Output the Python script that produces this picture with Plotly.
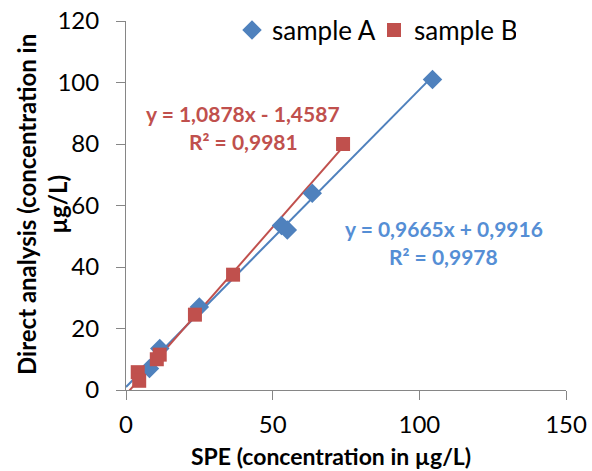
import plotly.graph_objects as go

# Data
a_x = [8, 11.5, 25, 53, 55, 63.5, 104.5]
a_y = [7, 13.5, 27, 53.5, 52, 64, 101]
b_x = [4, 4.5, 10.5, 11.5, 23.5, 36.5, 74]
b_y = [5.8, 3.0, 10, 11.5, 24.5, 37.5, 80]

a_fit = (0.9665, 0.9916)
b_fit = (1.0878, -1.4587)
a_eq = ["y = 0,9665x + 0,9916", "R² = 0,9978"]
b_eq = ["y = 1,0878x - 1,4587", "R² = 0,9981"]

x_ticks = [0, 50, 100, 150]
y_ticks = [0, 20, 40, 60, 80, 100, 120]
x_title = "SPE (concentration in µg/L)"
y_title = "Direct analysis (concentration in<br>µg/L)"

BLUE = "#4F81BD"
RED = "#C0504D"
BLUE_TXT = "#558ED5"
FONT = "Lato"

L, R, T, B = 126, 26, 21, 81
W, H = 592, 471
PW, PH = W - L - R, H - T - B


def px_x(p):
    return (p - L) / PW


def px_y(p):
    return (H - B - p) / PH


fig = go.Figure()


def trend(xs, fit):
    x0, x1 = 0, max(xs)
    return [x0, x1], [fit[0] * x0 + fit[1], fit[0] * x1 + fit[1]]


tx, ty = trend(a_x, a_fit)
fig.add_trace(go.Scatter(x=tx, y=ty, mode="lines", line=dict(color=BLUE, width=2),
                         showlegend=False, hoverinfo="skip"))
tx, ty = trend(b_x, b_fit)
fig.add_trace(go.Scatter(x=tx, y=ty, mode="lines", line=dict(color=RED, width=2),
                         showlegend=False, hoverinfo="skip"))

fig.add_trace(go.Scatter(x=a_x, y=a_y, mode="markers", name="sample A",
                         marker=dict(symbol="diamond", size=15, color=BLUE,
                                     line=dict(width=0)), cliponaxis=False))
fig.add_trace(go.Scatter(x=b_x, y=b_y, mode="markers", name="sample B",
                         marker=dict(symbol="square", size=14, color=RED,
                                     line=dict(width=0)), cliponaxis=False))

for txt, py, cx, col in [
    (b_eq[0], 113, 243, RED), (b_eq[1], 141, 243, RED),
    (a_eq[0], 228, 444, BLUE_TXT), (a_eq[1], 256, 443, BLUE_TXT),
]:
    fig.add_annotation(x=px_x(cx), y=px_y(py), xref="paper", yref="paper",
                       text="<b>%s</b>" % txt, showarrow=False,
                       xanchor="center", yanchor="middle",
                       font=dict(family=FONT, size=21, color=col))

# axis titles
fig.add_annotation(x=px_x(331), y=px_y(456), xref="paper", yref="paper",
                   text="<b>%s</b>" % x_title, showarrow=False,
                   xanchor="center", yanchor="middle",
                   font=dict(family=FONT, size=23, color="black"))
fig.add_annotation(x=px_x(42), y=px_y(205), xref="paper", yref="paper",
                   text="<b>%s</b>" % y_title, showarrow=False, textangle=-90,
                   xanchor="center", yanchor="middle",
                   font=dict(family=FONT, size=24, color="black"))

fig.update_layout(
    width=W, height=H,
    margin=dict(l=L, r=R, t=T, b=B, autoexpand=False),
    paper_bgcolor="white", plot_bgcolor="white",
    font=dict(family=FONT, color="black"),
    showlegend=True,
    legend=dict(orientation="h", x=px_x(232), y=px_y(30), xanchor="left", yanchor="middle",
                font=dict(family=FONT, size=26, color="black"),
                bgcolor="rgba(0,0,0,0)", itemsizing="trace", tracegroupgap=0,
                entrywidth=97),
    xaxis=dict(range=[0, 150], tickvals=x_ticks, ticktext=[str(v) for v in x_ticks],
               showgrid=False, zeroline=False, showline=True, linecolor="#868686", linewidth=1,
               ticks="outside", ticklen=9, tickcolor="#868686", automargin=False,
               ticklabelstandoff=4,
               tickfont=dict(family=FONT, size=24, color="black")),
    yaxis=dict(range=[0, 120], tickvals=y_ticks, ticktext=[str(v) for v in y_ticks],
               showgrid=False, zeroline=False, showline=True, linecolor="#868686", linewidth=1,
               ticks="outside", ticklen=9, tickcolor="#868686", automargin=False,
               ticklabelstandoff=12,
               tickfont=dict(family=FONT, size=24, color="black")),
)

fig.write_html("out.html", config={"displayModeBar": False},
               post_script="document.body.style.margin='0';document.body.style.padding='0';"
                           "document.body.style.overflow='hidden';")
